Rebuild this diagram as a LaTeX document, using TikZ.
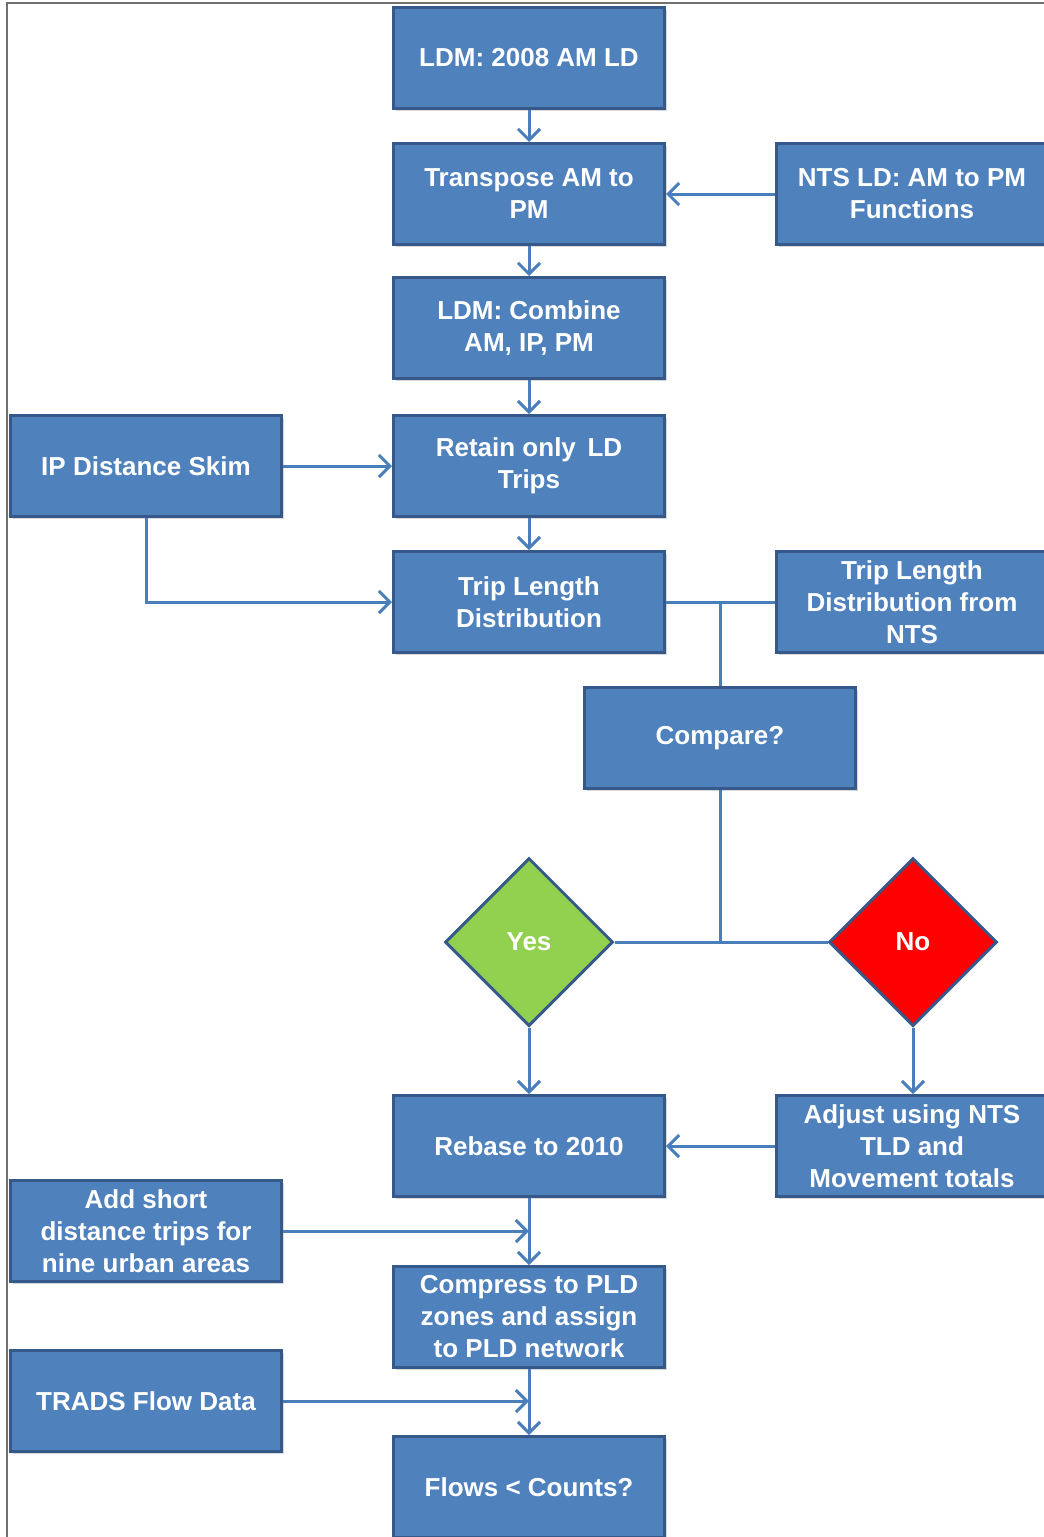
\documentclass[tikz,border=0pt]{standalone}
\usepackage{fontspec}
\setmainfont{Liberation Sans}
\usetikzlibrary{arrows.meta,shapes.geometric,shadows}
\definecolor{boxfill}{HTML}{4F81BD}
\definecolor{boxline}{HTML}{36598A}
\definecolor{conn}{HTML}{4A7EBB}
\definecolor{yesgreen}{HTML}{92D050}
\definecolor{nored}{HTML}{FF0000}
\definecolor{frame}{HTML}{707070}
\tikzset{
  stepbox/.style={rectangle, draw=boxline, fill=boxfill, line width=3pt,
    minimum width=271pt, minimum height=101pt, inner sep=2pt,
    text=white, align=center, font=\bfseries\fontsize{26}{32}\selectfont,
    drop shadow={opacity=0.3, shadow xshift=2pt, shadow yshift=-2pt}},
  decision/.style={diamond, aspect=1, draw=boxline, line width=3pt,
    minimum width=168pt, minimum height=168pt, inner sep=0pt,
    text=white, font=\bfseries\fontsize{26}{32}\selectfont},
  conline/.style={draw=conn, line width=3pt},
  arr/.style={conline, -{Straight Barb[length=11pt,width=22pt]}},
}
\begin{document}
\begin{tikzpicture}[x=1pt,y=-1pt]
\useasboundingbox (0,0) rectangle (1044,1537);
\clip (0,0) rectangle (1044,1537);
\fill[white] (0,0) rectangle (1044,1537);
\draw[frame, line width=1.5pt] (7,1540) -- (7,3) -- (1050,3);

% main column
\node[stepbox] (b1) at (529,58) {LDM: 2008 AM LD};
\node[stepbox] (b2) at (529,194) {Transpose AM to\\PM};
\node[stepbox] (b3) at (529,328) {LDM: Combine\\AM, IP, PM};
\node[stepbox] (b4) at (529,466) {Retain only\, LD\\Trips};
\node[stepbox] (b5) at (529,602) {Trip Length\\Distribution};
\node[stepbox] (nts) at (912,194) {NTS LD: AM to PM\\Functions};
\node[stepbox] (ntstld) at (912,602) {Trip Length\\Distribution from\\NTS};
\node[stepbox] (ip) at (146,466) {IP Distance Skim};
\node[stepbox] (cmp) at (720,738) {Compare?};
\node[decision, fill=yesgreen] (yes) at (529,942) {Yes};
\node[decision, fill=nored] (no) at (913,942) {No};
\node[stepbox] (rebase) at (529,1146) {Rebase to 2010};
\node[stepbox] (adjust) at (912,1146) {Adjust using NTS\\TLD and\\Movement totals};
\node[stepbox] (add) at (146,1231) {Add short\\distance trips for\\nine urban areas};
\node[stepbox] (compress) at (529,1317) {Compress to PLD\\zones and assign\\to PLD network};
\node[stepbox] (trads) at (146,1401) {TRADS Flow Data};
\node[stepbox] (flows) at (529,1487) {Flows < Counts?};

% connectors
\draw[arr] (b1) -- (b2);
\draw[arr] (nts) -- (b2);
\draw[arr] (b2) -- (b3);
\draw[arr] (b3) -- (b4);
\draw[arr] (b4) -- (b5);
\draw[arr] (ip) -- (b4);
\draw[arr] (ip.south) |- (b5.west);
\draw[conline] (b5.east) -- (ntstld.west);
\draw[conline] (cmp.north) -- (cmp.north |- b5.east);
\draw[conline] (cmp.south) -- (cmp.south |- yes.east);
\draw[conline] (yes.east) -- (no.west);
\draw[arr] (yes.south) -- (rebase.north);
\draw[arr] (no.south) -- (no.south |- adjust.north);
\draw[arr] (adjust) -- (rebase);
\draw[arr] (rebase) -- (compress);
\draw[arr] (compress) -- (flows);
\draw[arr] (add.east) -- (add.east -| compress.north);
\draw[arr] (trads.east) -- (trads.east -| flows.north);
\end{tikzpicture}
\end{document}
